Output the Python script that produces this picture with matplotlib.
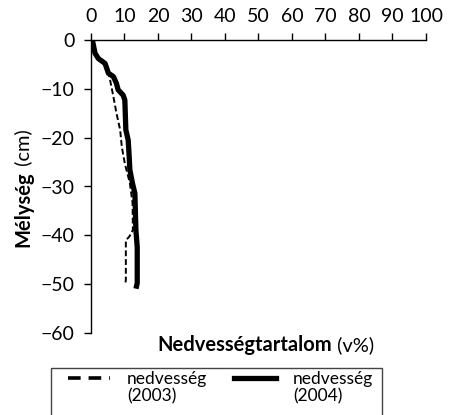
import matplotlib.pyplot as plt
from matplotlib.lines import Line2D
from matplotlib.patches import Rectangle

plt.rcParams['font.family'] = ['Lato', 'DejaVu Sans']
plt.rcParams['font.size'] = 14

# nedvesség 2003 (v%) vs mélység (cm)
nedv_2003 = [0.5, 0.7, 1.2, 2.2, 4.2, 5.2, 5.7, 6.6, 7.6, 8.7, 9.2, 10.1, 11.6, 12.4, 12.5, 11.4, 10.4, 10.4, 10.2]
mely_2003 = [-0.3, -1.0, -2.7, -3.8, -4.8, -6.8, -8.2, -11.3, -15.0, -18.4, -21.9, -25.3, -29.3, -33.4, -38.9, -40.3, -41.0, -49.2, -50.0]

# nedvesség 2004
nedv_2004 = [0.5, 0.7, 1.2, 2.2, 4.2, 5.2, 6.7, 7.6, 8.1, 9.6, 10.1, 10.4, 11.1, 11.4, 11.6, 12.4, 13.1, 13.4, 13.8, 13.8, 13.6]
mely_2004 = [-0.3, -1.0, -2.7, -3.8, -4.8, -6.8, -7.5, -8.9, -10.2, -11.3, -12.3, -18.4, -20.5, -23.9, -26.6, -29.4, -31.4, -38.9, -42.4, -49.8, -50.4]

xticks = list(range(0, 101, 10))
yticks = list(range(-60, 1, 10))
leg_names = ['nedvesség', 'nedvesség']
leg_years = ['(2003)', '(2004)']

W, H = 452, 415
fig = plt.figure(figsize=(W/100, H/100), dpi=100)
ax = fig.add_axes([91/W, 1-333/H, (426-91)/W, (333-40)/H])

ax.plot(nedv_2003, mely_2003, color='k', lw=1.4, ls=(0, (3, 1.5)))
ax.plot(nedv_2004, mely_2004, color='k', lw=3.8, solid_joinstyle='round')

ax.set_xlim(0, 100)
ax.set_ylim(-60, 0)
ax.set_xticks(xticks)
ax.set_yticks(yticks)
ax.set_yticklabels(['\u2212%d' % abs(v) if v else '0' for v in yticks])
ax.xaxis.tick_top()
ax.spines['right'].set_visible(False)
ax.spines['bottom'].set_visible(False)
for s in ['left', 'top']:
    ax.spines[s].set_linewidth(1.0)
ax.tick_params(axis='x', direction='out', length=5, width=1, pad=6)
ax.tick_params(axis='y', direction='out', length=5, width=1, pad=7)

# axis titles: bold part followed by a normal part on the same baseline
t1 = fig.text(157/W, 1-351/H, 'Nedvességtartalom', fontweight='bold',
              fontsize=14.5, ha='left', va='baseline')
t2 = fig.text(29/W, 1-247/H, 'Mélység', fontweight='bold', rotation=90,
              rotation_mode='anchor', fontsize=14.5, ha='left', va='baseline')

# legend box (cut by the bottom edge as in the original)
fig.patches.append(Rectangle((51/W, 1-368/H), (382-51)/W, -60/H,
                             transform=fig.transFigure, fill=False,
                             edgecolor='#444444', lw=1.0))
handles = [Line2D([], [], color='k', lw=2.6, ls=(0, (3.5, 2.2))),
           Line2D([], [], color='k', lw=3.8)]
leg = fig.legend(handles, leg_names, ncol=2, loc='upper left',
                 bbox_to_anchor=(68/W, 1-371/H), borderaxespad=0,
                 fontsize=12.5, frameon=False, borderpad=0,
                 handlelength=2.4, handletextpad=1.0, columnspacing=1.55)

fig.canvas.draw()
r = fig.canvas.get_renderer()
b1 = t1.get_window_extent(r)
b2 = t2.get_window_extent(r)
fig.text(b1.x1/W, 1-351/H, ' (v%)', fontsize=14.5, ha='left', va='baseline')
fig.text(29/W, b2.y1/H, ' (cm)', fontsize=14.5, rotation=90,
         rotation_mode='anchor', ha='left', va='baseline')
for txt, yr in zip(leg.get_texts(), leg_years):
    bb = txt.get_window_extent(r)
    fig.text(bb.x0/W, (bb.y0 - 1)/H, yr, fontsize=12.5, ha='left', va='top')

fig.savefig('out.png', dpi=100)
